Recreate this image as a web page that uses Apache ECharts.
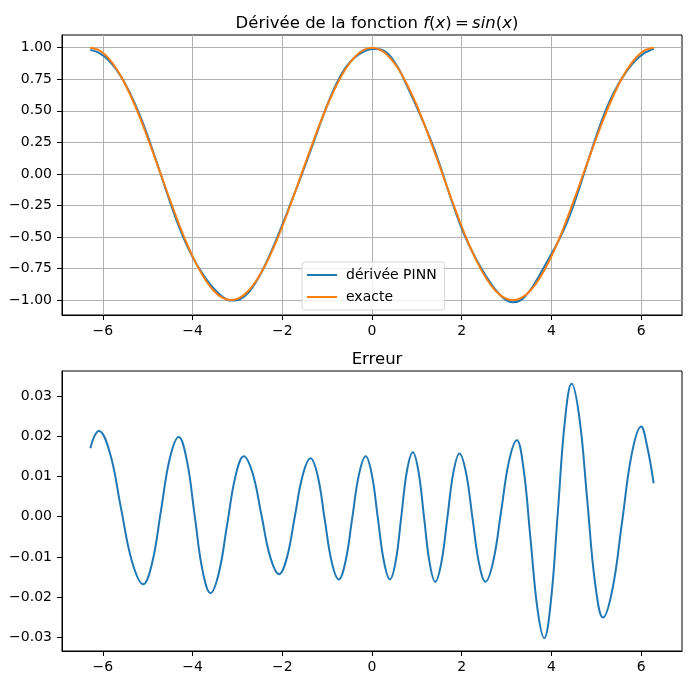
<!DOCTYPE html>
<html>
<head>
<meta charset="utf-8">
<script src="https://cdn.jsdelivr.net/npm/echarts@6/dist/echarts.min.js"></script>
<style>
  html, body { margin: 0; padding: 0; background: #fff; }
  #chart { width: 692px; height: 685px; }
</style>
</head>
<body>
<div id="chart"></div>
<script>
// x grid of the top plot (step pi/16 from -2pi to 2pi)
const xTop = [-6.283, -6.087, -5.890, -5.694, -5.498, -5.301, -5.105, -4.909, -4.712, -4.516, -4.320,
  -4.123, -3.927, -3.731, -3.534, -3.338, -3.142, -2.945, -2.749, -2.553, -2.356, -2.160, -1.963,
  -1.767, -1.571, -1.374, -1.178, -0.982, -0.785, -0.589, -0.393, -0.196, 0, 0.196, 0.393, 0.589,
  0.785, 0.982, 1.178, 1.374, 1.571, 1.767, 1.963, 2.160, 2.356, 2.553, 2.749, 2.945, 3.142, 3.338,
  3.534, 3.731, 3.927, 4.123, 4.320, 4.516, 4.712, 4.909, 5.105, 5.301, 5.498, 5.694, 5.890, 6.087, 6.283];
const exacte = [1.000, 0.981, 0.924, 0.831, 0.707, 0.556, 0.383, 0.195, 0.000, -0.195, -0.383,
  -0.556, -0.707, -0.831, -0.924, -0.981, -1.000, -0.981, -0.924, -0.831, -0.707, -0.556, -0.383,
  -0.195, 0.000, 0.195, 0.383, 0.556, 0.707, 0.831, 0.924, 0.981, 1.000, 0.981, 0.924, 0.831,
  0.707, 0.556, 0.383, 0.195, 0.000, -0.195, -0.383, -0.556, -0.707, -0.831, -0.924, -0.981, -1.000, -0.981,
  -0.924, -0.831, -0.707, -0.556, -0.383, -0.195, 0.000, 0.195, 0.383, 0.556, 0.707, 0.831, 0.924, 0.981, 1.000];
const pinn = [0.983, 0.960, 0.907, 0.824, 0.711, 0.569, 0.400, 0.207, -0.001, -0.209, -0.403,
  -0.570, -0.705, -0.815, -0.906, -0.972, -1.004, -0.994, -0.938, -0.837, -0.702, -0.543, -0.370,
  -0.192, -0.009, 0.181, 0.375, 0.562, 0.722, 0.842, 0.921, 0.967, 0.990, 0.987, 0.940, 0.837,
  0.695, 0.542, 0.383, 0.210, 0.009, -0.203, -0.399, -0.561, -0.697, -0.815, -0.915, -0.988, -1.017, -0.996,
  -0.918, -0.805, -0.681, -0.555, -0.408, -0.226, -0.014, 0.204, 0.407, 0.578, 0.714, 0.823, 0.904, 0.961, 0.992];

// erreur
const errX = [-6.28, -6.19, -6.09, -5.84, -5.60, -5.35, -5.10, -4.90, -4.705, -4.51, -4.31, -4.13,
  -3.955, -3.78, -3.60, -3.415, -3.23, -3.045, -2.86, -2.66, -2.465, -2.27, -2.07, -1.895, -1.72,
  -1.545, -1.37, -1.21, -1.055, -0.90, -0.74, -0.59, -0.44, -0.29, -0.14, -0.005, 0.13, 0.265, 0.40,
  0.53, 0.655, 0.78, 0.91, 1.035, 1.16, 1.285, 1.41, 1.545, 1.68, 1.815, 1.95, 2.095, 2.24, 2.385,
  2.53, 2.705, 2.88, 3.055, 3.23, 3.38, 3.535, 3.69, 3.84, 3.99, 4.145, 4.30, 4.45, 4.625, 4.80,
  4.975, 5.15, 5.36, 5.575, 5.79, 6.00, 6.14, 6.28];
const errY = [0.0170, 0.0200, 0.0213, 0.0157, 0.0023, -0.0112, -0.0168, -0.0114, 0.0015, 0.0144,
  0.0198, 0.0141, 0.0004, -0.0133, -0.0190, -0.0140, -0.0020, 0.0100, 0.0150, 0.0107, 0.0004, -0.0100,
  -0.0143, -0.0101, 0.0001, 0.0103, 0.0145, 0.0101, -0.0006, -0.0112, -0.0156, -0.0111, -0.0003,
  0.0105, 0.0150, 0.0105, -0.0003, -0.0111, -0.0156, -0.0110, 0.0002, 0.0114, 0.0160, 0.0113, -0.0001,
  -0.0115, -0.0162, -0.0115, -0.0003, 0.0110, 0.0157, 0.0110, -0.0003, -0.0115, -0.0162, -0.0110,
  0.0014, 0.0138, 0.0190, 0.0118, -0.0056, -0.0230, -0.0302, -0.0209, 0.0014, 0.0237, 0.0330, 0.0245,
  0.0040, -0.0166, -0.0251, -0.0181, -0.0014, 0.0155, 0.0224, 0.0172, 0.0083];

const xTicks = [-6, -4, -2, 0, 2, 4, 6];
const yTicksTop = [-1, -0.75, -0.5, -0.25, 0, 0.25, 0.5, 0.75, 1];
const yTicksErr = [-0.03, -0.02, -0.01, 0, 0.01, 0.02, 0.03];

const FONT = "DejaVu Sans";
const minus = (s) => s.replace("-", "\u2212");

function xAxisCfg(gridIndex, grid) {
  return {
    type: "value", gridIndex, min: -6.912, max: 6.912,
    axisLine: { show: true, onZero: false, lineStyle: { color: "#000", width: 1 } },
    axisTick: { show: true, length: 5, customValues: xTicks, lineStyle: { color: "#000" } },
    axisLabel: { customValues: xTicks, color: "#000", fontFamily: FONT, fontSize: 14, margin: 9,
      formatter: (v) => minus(String(v)) },
    splitLine: { show: grid, lineStyle: { color: "#b0b0b0", width: 1 } }
  };
}
function yAxisCfg(gridIndex, min, max, ticks, digits, grid) {
  return {
    type: "value", gridIndex, min, max,
    axisLine: { show: true, onZero: false, lineStyle: { color: "#000", width: 1 } },
    axisTick: { show: true, length: 5, customValues: ticks, lineStyle: { color: "#000" } },
    axisLabel: { customValues: ticks, color: "#000", fontFamily: FONT, fontSize: 14, margin: 10,
      formatter: (v) => minus(v.toFixed(digits)) },
    splitLine: { show: grid, lineStyle: { color: "#b0b0b0", width: 1 } }
  };
}

const chart = echarts.init(document.getElementById("chart"), null, { renderer: "canvas" });
chart.setOption({
  backgroundColor: "#fff",
  animation: false,
  title: [
    {
      left: 372, top: 10, textAlign: "center",
      text: "{n|Dérivée de la fonction }{i|f}{n|(}{i|x}{n|)\u2009=\u2009}{i|sin}{n|(}{i|x}{n|)}",
      textStyle: {
        fontWeight: "normal",
        rich: {
          n: { fontFamily: FONT, fontSize: 16.5, fontWeight: "normal", color: "#000" },
          i: { fontFamily: FONT, fontSize: 16.5, fontWeight: "normal", fontStyle: "italic", color: "#000" }
        }
      }
    },
    { left: 372, top: 346, textAlign: "center", text: "Erreur",
      textStyle: { fontFamily: FONT, fontSize: 16.5, fontWeight: "normal", color: "#000" } }
  ],
  legend: {
    left: 302, top: 262, orient: "vertical",
    data: ["dérivée PINN", "exacte"],
    icon: "rect",
    itemWidth: 30, itemHeight: 2, itemGap: 8,
    padding: [6, 8, 6, 5],
    backgroundColor: "rgba(255,255,255,0.8)", borderColor: "#d5d5d5", borderWidth: 1, borderRadius: 3,
    textStyle: { fontFamily: FONT, fontSize: 14, color: "#000", padding: [0, 0, 0, 4] }
  },
  grid: [
    { left: 62, right: 10, top: 35, height: 280, show: true, borderColor: "#000", borderWidth: 1 },
    { left: 62, right: 10, top: 371, height: 280, show: true, borderColor: "#000", borderWidth: 1 }
  ],
  xAxis: [xAxisCfg(0, true), xAxisCfg(1, false)],
  yAxis: [yAxisCfg(0, -1.118, 1.101, yTicksTop, 2, true), yAxisCfg(1, -0.0334, 0.0362, yTicksErr, 2, false)],
  series: [
    { name: "dérivée PINN", type: "line", xAxisIndex: 0, yAxisIndex: 0, symbol: "none", smooth: 0.3,
      lineStyle: { color: "#1f77b4", width: 2 }, itemStyle: { color: "#1f77b4" },
      data: xTop.map((x, i) => [x, pinn[i]]) },
    { name: "exacte", type: "line", xAxisIndex: 0, yAxisIndex: 0, symbol: "none", smooth: 0.3,
      lineStyle: { color: "#ff7f0e", width: 2 }, itemStyle: { color: "#ff7f0e" },
      data: xTop.map((x, i) => [x, exacte[i]]) },
    { name: "erreur", type: "line", xAxisIndex: 1, yAxisIndex: 1, symbol: "none", smooth: 0.4,
      lineStyle: { color: "#1f77b4", width: 2 }, itemStyle: { color: "#1f77b4" },
      data: errX.map((x, i) => [x, errY[i]]) }
  ]
});
</script>
</body>
</html>
